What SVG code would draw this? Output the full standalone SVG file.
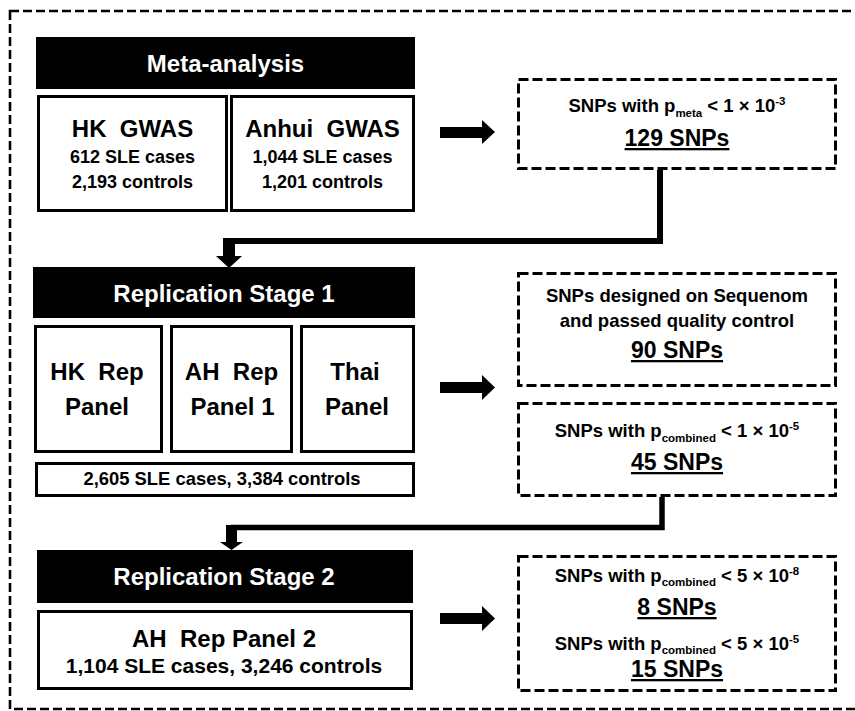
<svg xmlns="http://www.w3.org/2000/svg" width="855" height="711" viewBox="0 0 855 711">
<style>
text{font-family:"Liberation Sans",Arial,sans-serif;font-weight:bold;fill:#000;text-anchor:middle}
.bar{fill:#000}
.bar-t{fill:#fff;font-size:24px}
.box{fill:#fff;stroke:#000;stroke-width:3}
.dbox{fill:#fff;stroke:#000;stroke-width:3;stroke-dasharray:10 4}
.big{font-size:24px}
.mid{font-size:18px}
.sn{font-size:18.5px}
.sm{font-size:11.5px}
.cnt{font-size:23px;text-decoration:underline}
.line{fill:none;stroke:#000;stroke-linejoin:miter}
</style>
<rect id="frame" x="10" y="11" width="860" height="698" fill="none" stroke="#000" stroke-width="2.6" stroke-dasharray="9 4"/>

<g id="meta-analysis">
<rect class="bar" x="36" y="37" width="379" height="52"/>
<text class="bar-t" x="225.5" y="72">Meta-analysis</text>
</g>
<g id="hk-gwas">
<rect class="box" x="38.5" y="96.5" width="188" height="114"/>
<text class="big" x="132.5" y="137" xml:space="preserve">HK  GWAS</text>
<text class="mid" x="132.5" y="163">612 SLE cases</text>
<text class="mid" x="132.5" y="188">2,193 controls</text>
</g>
<g id="anhui-gwas">
<rect class="box" x="231.5" y="96.5" width="182" height="114"/>
<text class="big" x="322.5" y="137" xml:space="preserve">Anhui  GWAS</text>
<text class="mid" x="322.5" y="163">1,044 SLE cases</text>
<text class="mid" x="322.5" y="188">1,201 controls</text>
</g>
<g id="snps-meta">
<rect class="dbox" x="518.5" y="79.5" width="317" height="89"/>
<text class="sn" x="677" y="112">SNPs with p<tspan class="sm" dy="5">meta</tspan><tspan dy="-5"> &lt; 1 × 10</tspan><tspan class="sm" dy="-7">-3</tspan></text>
<text class="cnt" x="677" y="146">129 SNPs</text>
</g>

<g id="replication-stage-1">
<rect class="bar" x="33" y="267" width="382" height="51"/>
<text class="bar-t" x="224" y="302">Replication Stage 1</text>
</g>
<g id="hk-rep-panel">
<rect class="box" x="35.5" y="326.5" width="126" height="125"/>
<text class="big" x="97" y="380" xml:space="preserve">HK  Rep</text>
<text class="big" x="97" y="415">Panel</text>
</g>
<g id="ah-rep-panel-1">
<rect class="box" x="171.5" y="326.5" width="120" height="125"/>
<text class="big" x="231.5" y="380" xml:space="preserve">AH  Rep</text>
<text class="big" x="232.5" y="415">Panel 1</text>
</g>
<g id="thai-panel">
<rect class="box" x="301.5" y="326.5" width="112" height="125"/>
<text class="big" x="355" y="380">Thai</text>
<text class="big" x="357" y="415">Panel</text>
</g>
<g id="stage1-samples">
<rect class="box" x="36.5" y="463.5" width="377" height="32"/>
<text x="222" y="485" style="font-size:18.4px">2,605 SLE cases, 3,384 controls</text>
</g>
<g id="snps-sequenom">
<rect class="dbox" x="518.5" y="273.5" width="317" height="112"/>
<text class="sn" x="677" y="302">SNPs designed on Sequenom</text>
<text class="sn" x="677" y="327">and passed quality control</text>
<text class="cnt" x="677" y="358">90 SNPs</text>
</g>
<g id="snps-stage1">
<rect class="dbox" x="518.5" y="403.5" width="317" height="92"/>
<text class="sn" x="677" y="437">SNPs with p<tspan class="sm" dy="5">combined</tspan><tspan dy="-5"> &lt; 1 × 10</tspan><tspan class="sm" dy="-7">-5</tspan></text>
<text class="cnt" x="677" y="470">45 SNPs</text>
</g>

<g id="replication-stage-2">
<rect class="bar" x="37" y="550" width="376" height="53"/>
<text class="bar-t" x="224" y="585">Replication Stage 2</text>
</g>
<g id="ah-rep-panel-2">
<rect class="box" x="38.5" y="611.5" width="373" height="77"/>
<text class="big" x="224" y="647" xml:space="preserve">AH  Rep Panel 2</text>
<text x="224" y="673" style="font-size:21px">1,104 SLE cases, 3,246 controls</text>
</g>
<g id="snps-stage2">
<rect class="dbox" x="518.5" y="556.5" width="317" height="134"/>
<text class="sn" x="677" y="582">SNPs with p<tspan class="sm" dy="4">combined</tspan><tspan dy="-4"> &lt; 5 × 10</tspan><tspan class="sm" dy="-7">-8</tspan></text>
<text class="cnt" x="677" y="615">8 SNPs</text>
<text class="sn" x="677" y="650">SNPs with p<tspan class="sm" dy="4">combined</tspan><tspan dy="-4"> &lt; 5 × 10</tspan><tspan class="sm" dy="-7">-5</tspan></text>
<text class="cnt" x="677" y="677">15 SNPs</text>
</g>

<g id="connectors">
<polygon points="440,127 482,127 482,120 495,132 482,144 482,138 440,138"/>
<polygon points="440,382 482,382 482,375 495,387.5 482,400 482,393 440,393"/>
<polygon points="440,613 482,613 482,606 495,618.5 482,631 482,624 440,624"/>
<path class="line" d="M660,170 V241 H229" stroke-width="6"/>
<polygon points="223,238 235,238 235,256 242,256 229,268 216,256 223,256"/>
<path class="line" d="M662,497 V527.5 H231" stroke-width="5.5"/>
<polygon points="226,525 237,525 237,542 243,542 231.5,550 220,542 226,542"/>
</g>
</svg>
